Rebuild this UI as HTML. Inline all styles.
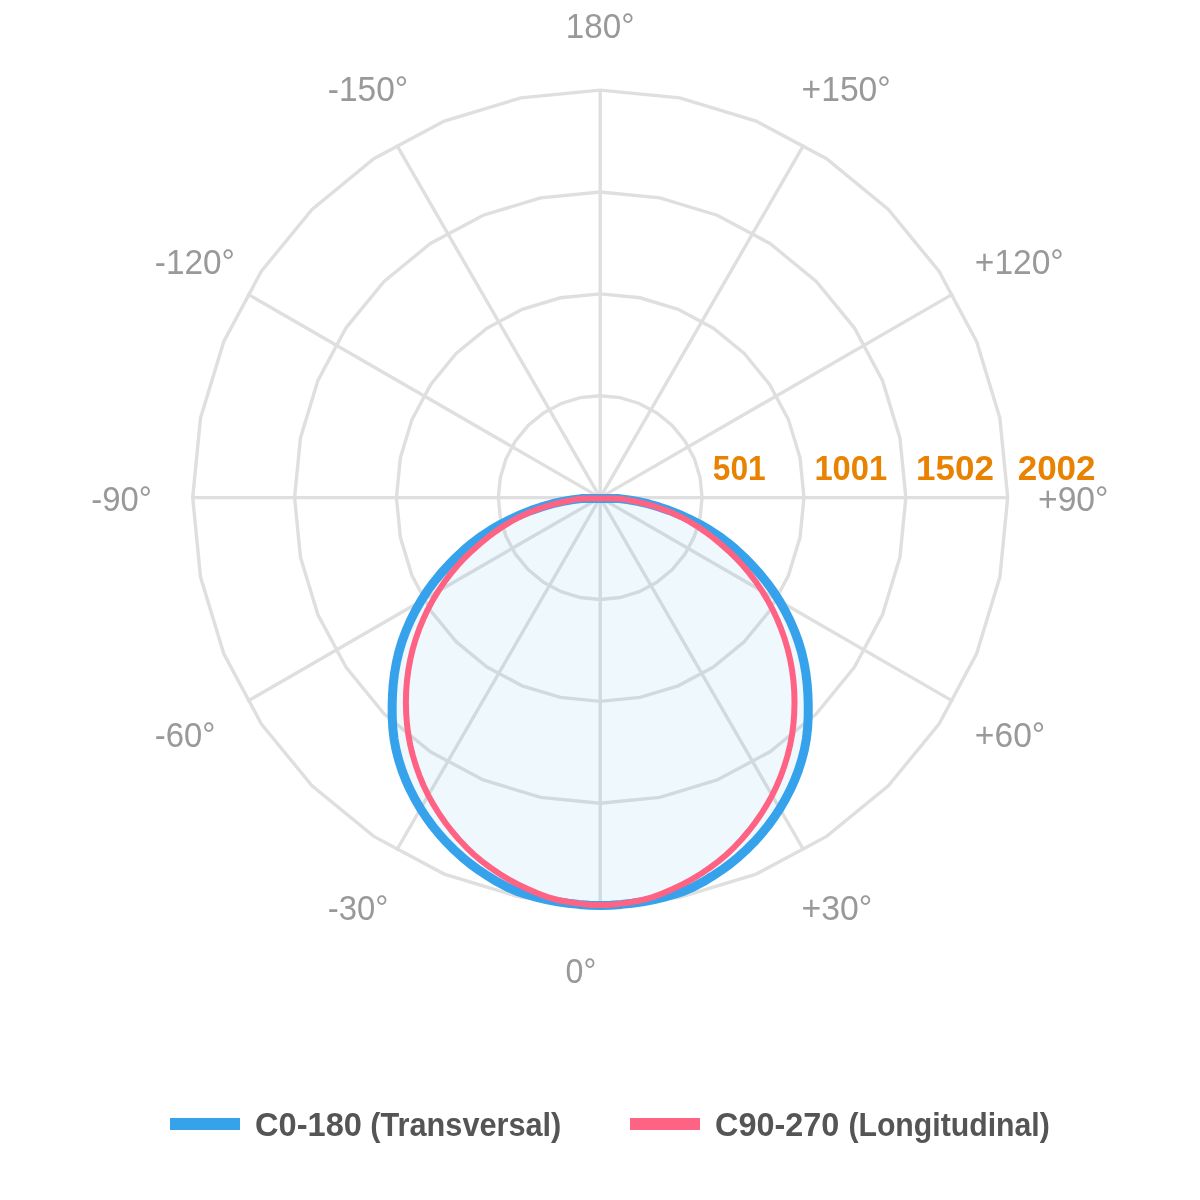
<!DOCTYPE html>
<html lang="en">
<head>
<meta charset="utf-8">
<title>Polar intensity diagram</title>
<style>
html,body{margin:0;padding:0;background:#fff;}
body{width:1200px;height:1200px;overflow:hidden;font-family:"Liberation Sans",Arial,sans-serif;}
svg{display:block;}
</style>
</head>
<body>
<svg width="1200" height="1200" viewBox="0 0 1200 1200">
<rect width="1200" height="1200" fill="#ffffff"/>
<g fill="none" stroke="#dfdfdf" stroke-width="3.4" stroke-linejoin="miter">
<polygon points="600.20,395.73 620.07,397.68 639.19,403.48 656.80,412.89 672.24,425.56 684.91,441.00 694.32,458.61 700.12,477.73 702.08,497.60 700.12,517.47 694.32,536.59 684.91,554.20 672.24,569.64 656.80,582.31 639.19,591.72 620.07,597.52 600.20,599.48 580.33,597.52 561.21,591.72 543.60,582.31 528.16,569.64 515.49,554.20 506.08,536.59 500.28,517.47 498.33,497.60 500.28,477.73 506.08,458.61 515.49,441.00 528.16,425.56 543.60,412.89 561.21,403.48 580.33,397.68"/>
<polygon points="600.20,293.85 639.95,297.76 678.17,309.36 713.40,328.19 744.27,353.53 769.61,384.40 788.44,419.63 800.04,457.85 803.95,497.60 800.04,537.35 788.44,575.57 769.61,610.80 744.27,641.67 713.40,667.01 678.17,685.84 639.95,697.44 600.20,701.35 560.45,697.44 522.23,685.84 487.00,667.01 456.13,641.67 430.79,610.80 411.96,575.57 400.36,537.35 396.45,497.60 400.36,457.85 411.96,419.63 430.79,384.40 456.13,353.53 487.00,328.19 522.23,309.36 560.45,297.76"/>
<polygon points="600.20,191.98 659.82,197.85 717.16,215.24 770.00,243.48 816.31,281.49 854.32,327.80 882.56,380.64 899.95,437.98 905.83,497.60 899.95,557.22 882.56,614.56 854.32,667.40 816.31,713.71 770.00,751.72 717.16,779.96 659.82,797.35 600.20,803.23 540.58,797.35 483.24,779.96 430.40,751.72 384.09,713.71 346.08,667.40 317.84,614.56 300.45,557.22 294.58,497.60 300.45,437.98 317.84,380.64 346.08,327.80 384.09,281.49 430.40,243.48 483.24,215.24 540.58,197.85"/>
<polygon points="600.20,90.10 679.70,97.93 756.14,121.12 826.59,158.78 888.35,209.45 939.02,271.21 976.68,341.66 999.87,418.10 1007.70,497.60 999.87,577.10 976.68,653.54 939.02,723.99 888.35,785.75 826.59,836.42 756.14,874.08 679.70,897.27 600.20,905.10 520.70,897.27 444.26,874.08 373.81,836.42 312.05,785.75 261.38,723.99 223.72,653.54 200.53,577.10 192.70,497.60 200.53,418.10 223.72,341.66 261.38,271.21 312.05,209.45 373.81,158.78 444.26,121.12 520.70,97.93"/>
<line x1="600.2" y1="497.6" x2="600.20" y2="905.10"/>
<line x1="600.2" y1="497.6" x2="803.95" y2="850.51"/>
<line x1="600.2" y1="497.6" x2="953.11" y2="701.35"/>
<line x1="600.2" y1="497.6" x2="1007.70" y2="497.60"/>
<line x1="600.2" y1="497.6" x2="953.11" y2="293.85"/>
<line x1="600.2" y1="497.6" x2="803.95" y2="144.69"/>
<line x1="600.2" y1="497.6" x2="600.20" y2="90.10"/>
<line x1="600.2" y1="497.6" x2="396.45" y2="144.69"/>
<line x1="600.2" y1="497.6" x2="247.29" y2="293.85"/>
<line x1="600.2" y1="497.6" x2="192.70" y2="497.60"/>
<line x1="600.2" y1="497.6" x2="247.29" y2="701.35"/>
<line x1="600.2" y1="497.6" x2="396.45" y2="850.51"/>
</g>
<path d="M600.20,498.40 L590.82,498.40 L581.26,498.59 L571.53,499.86 L561.67,501.65 L551.67,503.99 L541.52,506.89 L531.31,510.37 L521.16,514.40 L511.00,519.01 L500.82,524.23 L490.87,529.99 L481.38,536.21 L472.53,542.81 L464.19,549.81 L456.19,557.25 L448.39,565.19 L440.80,573.63 L433.58,582.50 L426.86,591.72 L420.77,601.20 L415.24,610.94 L410.23,620.97 L405.79,631.21 L401.98,641.61 L398.84,652.11 L396.37,662.66 L394.53,673.26 L393.25,683.94 L392.48,694.72 L392.15,705.65 L392.22,716.77 L392.80,727.94 L394.04,738.98 L396.03,749.73 L398.73,760.16 L402.02,770.37 L405.88,780.33 L410.28,790.05 L415.19,799.50 L420.59,808.70 L426.44,817.63 L432.75,826.25 L439.50,834.52 L446.68,842.41 L454.24,849.98 L462.16,857.20 L470.45,864.00 L479.10,870.30 L488.05,876.21 L497.25,881.81 L506.75,886.87 L516.55,891.14 L526.63,894.53 L536.88,897.42 L547.25,899.82 L557.72,901.74 L568.28,903.23 L578.88,904.39 L589.53,905.15 L600.20,905.43 L610.87,905.15 L621.52,904.39 L632.12,903.23 L642.68,901.74 L653.15,899.82 L663.52,897.42 L673.77,894.53 L683.85,891.14 L693.65,886.87 L703.15,881.81 L712.35,876.21 L721.30,870.30 L729.95,864.00 L738.24,857.20 L746.16,849.98 L753.72,842.41 L760.90,834.52 L767.65,826.25 L773.96,817.63 L779.81,808.70 L785.21,799.50 L790.12,790.05 L794.52,780.33 L798.38,770.37 L801.67,760.16 L804.37,749.73 L806.36,738.98 L807.60,727.94 L808.18,716.77 L808.25,705.65 L807.92,694.72 L807.15,683.94 L805.87,673.26 L804.03,662.66 L801.56,652.11 L798.42,641.61 L794.61,631.21 L790.17,620.97 L785.16,610.94 L779.63,601.20 L773.54,591.72 L766.82,582.50 L759.60,573.63 L752.01,565.19 L744.21,557.25 L736.21,549.81 L727.87,542.81 L719.02,536.21 L709.53,529.99 L699.58,524.23 L689.40,519.01 L679.24,514.40 L669.09,510.37 L658.88,506.89 L648.73,503.99 L638.73,501.65 L628.87,499.86 L619.14,498.59 L609.58,498.40 L600.20,498.40Z" fill="rgba(54,162,235,0.08)" stroke="#36a2eb" stroke-width="9" stroke-linejoin="round"/>
<path d="M600.20,498.40 L591.85,498.40 L583.29,498.49 L574.56,499.62 L565.68,501.23 L556.66,503.33 L547.33,505.97 L537.87,509.15 L528.55,512.83 L519.61,516.95 L511.19,521.45 L503.14,526.35 L495.34,531.67 L487.66,537.45 L479.98,543.75 L472.16,550.64 L464.49,558.02 L457.33,565.75 L450.55,573.85 L444.18,582.31 L438.24,591.11 L432.78,600.20 L427.77,609.58 L423.22,619.24 L419.15,629.14 L415.61,639.24 L412.62,649.50 L410.19,659.88 L408.29,670.39 L406.94,681.00 L406.14,691.66 L405.90,702.35 L406.17,713.10 L406.96,723.85 L408.32,734.56 L410.27,745.13 L412.82,755.51 L415.90,765.76 L419.51,775.84 L423.64,785.72 L428.29,795.35 L433.46,804.69 L439.10,813.77 L445.20,822.56 L451.74,831.04 L458.70,839.20 L466.06,847.05 L473.82,854.48 L482.01,861.35 L490.55,867.77 L499.40,873.79 L508.55,879.35 L517.98,884.40 L527.65,889.03 L537.52,893.36 L547.60,897.12 L557.91,900.00 L568.37,902.02 L578.92,903.64 L589.54,904.71 L600.20,905.10 L610.86,904.71 L621.48,903.64 L632.03,902.02 L642.49,900.00 L652.80,897.12 L662.88,893.36 L672.75,889.03 L682.42,884.40 L691.85,879.35 L701.00,873.79 L709.85,867.77 L718.39,861.35 L726.58,854.48 L734.34,847.05 L741.70,839.20 L748.66,831.04 L755.20,822.56 L761.30,813.77 L766.94,804.69 L772.11,795.35 L776.76,785.72 L780.89,775.84 L784.50,765.76 L787.58,755.51 L790.13,745.13 L792.08,734.56 L793.44,723.85 L794.23,713.10 L794.50,702.35 L794.26,691.66 L793.46,681.00 L792.11,670.39 L790.21,659.88 L787.78,649.50 L784.79,639.24 L781.25,629.14 L777.18,619.24 L772.63,609.58 L767.62,600.20 L762.16,591.11 L756.22,582.31 L749.85,573.85 L743.07,565.75 L735.91,558.02 L728.24,550.64 L720.42,543.75 L712.74,537.45 L705.06,531.67 L697.26,526.35 L689.21,521.45 L680.79,516.95 L671.85,512.83 L662.53,509.15 L653.07,505.97 L643.74,503.33 L634.72,501.23 L625.84,499.62 L617.11,498.49 L608.55,498.40 L600.20,498.40Z" fill="none" stroke="#ff6384" stroke-width="6" stroke-linejoin="round"/>
<g font-family="'Liberation Sans', Arial, sans-serif" font-size="35" font-weight="700" fill="#e88200">
<text x="712.79" y="480.00" textLength="52.87" lengthAdjust="spacingAndGlyphs">501</text>
<text x="814.43" y="480.00" textLength="72.68" lengthAdjust="spacingAndGlyphs">1001</text>
<text x="916.00" y="480.00" textLength="77.88" lengthAdjust="spacingAndGlyphs">1502</text>
<text x="1017.70" y="480.00" textLength="77.88" lengthAdjust="spacingAndGlyphs">2002</text>
</g>
<g font-family="'Liberation Sans', Arial, sans-serif" font-size="35" font-weight="400" fill="#999999">
<text x="565.80" y="38.00" textLength="68.73" lengthAdjust="spacingAndGlyphs">180°</text>
<text x="327.84" y="101.00" textLength="80.33" lengthAdjust="spacingAndGlyphs">-150°</text>
<text x="801.54" y="101.00" textLength="89.23" lengthAdjust="spacingAndGlyphs">+150°</text>
<text x="154.85" y="274.00" textLength="80.12" lengthAdjust="spacingAndGlyphs">-120°</text>
<text x="974.84" y="274.00" textLength="88.92" lengthAdjust="spacingAndGlyphs">+120°</text>
<text x="91.26" y="510.50" textLength="60.53" lengthAdjust="spacingAndGlyphs">-90°</text>
<text x="1038.04" y="510.50" textLength="70.44" lengthAdjust="spacingAndGlyphs">+90°</text>
<text x="154.86" y="746.50" textLength="60.63" lengthAdjust="spacingAndGlyphs">-60°</text>
<text x="974.84" y="746.50" textLength="70.44" lengthAdjust="spacingAndGlyphs">+60°</text>
<text x="327.86" y="919.50" textLength="60.63" lengthAdjust="spacingAndGlyphs">-30°</text>
<text x="801.54" y="919.50" textLength="70.75" lengthAdjust="spacingAndGlyphs">+30°</text>
<text x="565.58" y="983.20" textLength="30.77" lengthAdjust="spacingAndGlyphs">0°</text>
</g>
<g font-family="'Liberation Sans', Arial, sans-serif" font-size="33" font-weight="700" fill="#555555">
<text y="1135.60"><tspan x="255.01" textLength="106.91" lengthAdjust="spacingAndGlyphs">C0-180</tspan> <tspan x="370.37" textLength="190.98" lengthAdjust="spacingAndGlyphs">(Transversal)</tspan></text>
<text y="1135.60"><tspan x="715.02" textLength="124.26" lengthAdjust="spacingAndGlyphs">C90-270</tspan> <tspan x="848.38" textLength="201.47" lengthAdjust="spacingAndGlyphs">(Longitudinal)</tspan></text>
</g>
<rect x="170" y="1118" width="70" height="12" fill="#36a2eb"/>
<rect x="630" y="1118" width="70" height="12" fill="#ff6384"/>
</svg>
</body>
</html>
